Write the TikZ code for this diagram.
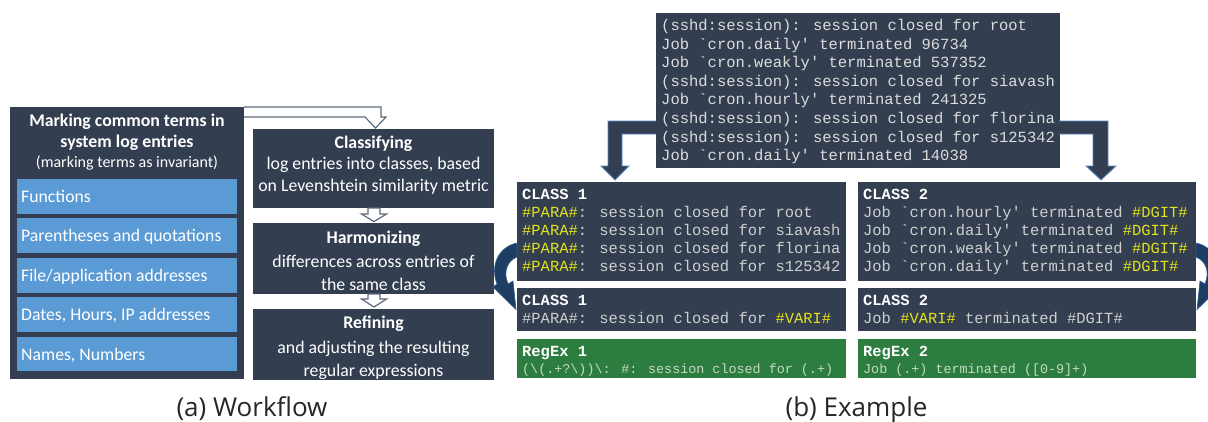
\documentclass[tikz,border=0pt]{standalone}
\usepackage{fontspec}
\setmainfont{Carlito}
\newfontfamily\logfont{Liberation Mono}
\newfontfamily\capfont{Open Sans}
\usetikzlibrary{calc}

\definecolor{panel}{HTML}{333F50}
\definecolor{itemblue}{HTML}{5B9BD5}
\definecolor{regexgreen}{HTML}{2E7D40}
\definecolor{hilite}{HTML}{E2E21C}
\definecolor{logtext}{HTML}{DCDCDC}
\definecolor{classtext}{HTML}{CFCFCF}
\definecolor{regextext}{HTML}{C2DAC4}
\definecolor{outline}{HTML}{5E6B7D}
\definecolor{bentedge}{HTML}{5A8AC6}
\definecolor{curvefill}{HTML}{1E3D62}
\definecolor{curveedge}{HTML}{2F5F94}

\tikzset{
  panelbox/.style={anchor=north west, inner sep=0pt, outer sep=0pt, fill=#1},
  itemtext/.style={anchor=base west, inner sep=0pt, text=white,
    font=\fontsize{17.7}{21}\selectfont},
  headtext/.style={anchor=base, inner sep=0pt, text=white,
    font=\fontsize{17.8}{21}\selectfont\bfseries},
  bodytext/.style={anchor=base, inner sep=0pt, text=white,
    font=\fontsize{17.8}{21}\selectfont},
  logline/.style={anchor=base west, inner sep=0pt, text=logtext,
    font=\logfont\fontsize{15.5}{18}\selectfont},
  classline/.style={anchor=base west, inner sep=0pt, text=classtext,
    font=\logfont\fontsize{15.45}{18}\selectfont},
  classhead/.style={anchor=base west, inner sep=0pt, text=white,
    font=\logfont\fontsize{15.45}{18}\selectfont\bfseries},
  regexline/.style={anchor=base west, inner sep=0pt, text=regextext,
    font=\logfont\fontsize{13.4}{16}\selectfont},
  hollowarrow/.style={fill=white, draw=outline, line width=1.2pt, line join=miter},
  bentarrow/.style={fill=panel, draw=bentedge, line width=0.9pt, line join=miter},
  curvedarrow/.style={fill=curvefill, draw=curveedge, line width=0.6pt},
  caption/.style={anchor=base, inner sep=0pt, text=black!85,
    font=\capfont\fontsize{26}{30}\selectfont}
}

\begin{document}
\begin{tikzpicture}[x=1pt, y=-1pt]
\useasboundingbox (0,0) rectangle (1208,421);
\clip (0,0) rectangle (1208,421);
\fill[white] (0,0) rectangle (1208,421);

% ---------------- workflow: boxes and hollow connector arrows
\node[panelbox=panel, minimum width=234, minimum height=272] (mark) at (10,107) {};
\node[panelbox=panel, minimum width=241, minimum height=79] (cls) at (253,129) {};
\node[panelbox=panel, minimum width=241, minimum height=71] (harm) at (253,223) {};
\node[panelbox=panel, minimum width=241, minimum height=71] (refi) at (253,309) {};

\draw[hollowarrow] (mark.north east) -- ($(mark.north east)+(137,0)$)
  -- ($(mark.north east)+(137,10)$) -- ($(mark.north east)+(142,10)$)
  -- ($(cls.north)+(2,-1)$) -- ($(mark.north east)+(121,10)$)
  -- ($(mark.north east)+(0,10)$);
\draw[hollowarrow] ($(cls.south)+(-5.5,0)$) -- ($(cls.south)+(6.5,0)$)
  -- ($(cls.south)+(6.5,6)$) -- ($(cls.south)+(13,6)$)
  -- ($(harm.north)+(0.5,-1.5)$) -- ($(cls.south)+(-12,6)$)
  -- ($(cls.south)+(-5.5,6)$) -- cycle;
\draw[hollowarrow] ($(harm.south)+(-5.5,0)$) -- ($(harm.south)+(6.5,0)$)
  -- ($(harm.south)+(6.5,5)$) -- ($(harm.south)+(13,5)$)
  -- ($(refi.north)+(0.5,-2)$) -- ($(harm.south)+(-12,5)$)
  -- ($(harm.south)+(-5.5,5)$) -- cycle;

% ---------------- workflow: marking box and its items
\node[headtext] (t1) at (127,126.5) {Marking common terms in};
\node[headtext] (t2) at (127,147.5) {system log entries};
\node[anchor=base, inner sep=0pt, text=white, font=\fontsize{16}{19}\selectfont]
  (t3) at (127,167) {(marking terms as invariant)};

\node[panelbox=itemblue, minimum width=220, minimum height=35] (i1) at (17,179) {};
\node[panelbox=itemblue, minimum width=220, minimum height=35] (i2) at (17,218) {};
\node[panelbox=itemblue, minimum width=220, minimum height=35] (i3) at (17,258) {};
\node[panelbox=itemblue, minimum width=220, minimum height=35] (i4) at (17,297) {};
\node[panelbox=itemblue, minimum width=220, minimum height=34] (i5) at (17,337) {};
\node[itemtext] (i1t) at (21,202.5) {Functions};
\node[itemtext] (i2t) at (21,241.5) {Parentheses and quotations};
\node[itemtext] (i3t) at (21,281) {File/application addresses};
\node[itemtext] (i4t) at (21,320.5) {Dates, Hours, IP addresses};
\node[itemtext] (i5t) at (21,360) {Names, Numbers};

% ---------------- workflow: steps
\node[headtext] (c1h) at (373.5,148.7) {Classifying};
\node[bodytext] (c1a) at (373.5,169.7) {log entries into classes, based};
\node[bodytext] (c1b) at (373.5,191.7) {on Levenshtein similarity metric};
\node[headtext] (h1h) at (373.5,243.3) {Harmonizing};
\node[bodytext] (h1a) at (373.5,267) {differences across entries of};
\node[bodytext] (h1b) at (373.5,290) {the same class};
\node[headtext] (r1h) at (373.5,328.7) {Refining};
\node[bodytext] (r1a) at (373.5,353.7) {and adjusting the resulting};
\node[bodytext] (r1b) at (373.5,376) {regular expressions};

% ---------------- example: raw log entries
\node[panelbox=panel, minimum width=404, minimum height=155] (log) at (656,13) {};
\node[logline] (l1) at (661,30.5) {(sshd:session): session closed for root};
\node[logline] (l2) at (661,49.1) {Job `cron.daily' terminated 96734};
\node[logline] (l3) at (661,67.7) {Job `cron.weakly' terminated 537352};
\node[logline] (l4) at (661,86.3) {(sshd:session): session closed for siavash};
\node[logline] (l5) at (661,104.9) {Job `cron.hourly' terminated 241325};
\node[logline] (l6) at (661,123.5) {(sshd:session): session closed for florina};
\node[logline] (l7) at (661,142.1) {(sshd:session): session closed for s125342};
\node[logline] (l8) at (661,160.7) {Job `cron.daily' terminated 14038};

% ---------------- example: class boxes
\node[panelbox=panel, minimum width=329, minimum height=99] (k1) at (517,182) {};
\node[panelbox=panel, minimum width=338, minimum height=99] (k2) at (858,182) {};
\node[panelbox=panel, minimum width=329, minimum height=43] (m1) at (517,288) {};
\node[panelbox=panel, minimum width=338, minimum height=43] (m2) at (858,288) {};
\node[panelbox=regexgreen, minimum width=329, minimum height=39] (g1) at (517,339) {};
\node[panelbox=regexgreen, minimum width=338, minimum height=39] (g2) at (858,339) {};

% bent arrows from the log to both classes
\coordinate (lbend) at ($(log.north west)+(0,108)$);
\draw[bentarrow] (lbend) -- ($(lbend)+(-48,0)$) -- ($(lbend)+(-48,45)$)
  -- ($(lbend)+(-55,45)$) -- ($(k1.north west)+(98,-2)$)
  -- ($(lbend)+(-27,45)$) -- ($(lbend)+(-34,45)$) -- ($(lbend)+(-34,13)$)
  -- ($(lbend)+(0,13)$);
\coordinate (rbend) at ($(log.north east)+(-1,108)$);
\draw[bentarrow] (rbend) -- ($(rbend)+(49,0)$) -- ($(rbend)+(49,45)$)
  -- ($(rbend)+(57,45)$) -- ($(k2.north east)+(-95,-2)$)
  -- ($(rbend)+(27,45)$) -- ($(rbend)+(34,45)$) -- ($(rbend)+(34,13)$)
  -- ($(rbend)+(0,13)$);

% curved arrows from each class to its harmonized form
\filldraw[curvedarrow] (k1.west |- 0,243) .. controls (498,247) and (490,266) .. (497,284)
  -- (493,287) -- ($(m1.west)+(-1,0)$) -- (513,281) -- (508,284)
  .. controls (503,272) and (507,261) .. (k1.west |- 0,257) -- cycle;
\filldraw[curvedarrow] (k2.east |- 0,243) .. controls (1215,247) and (1223,266) .. (1216,284)
  -- (1220,287) -- ($(m2.east)+(1,0)$) -- (1200,281) -- (1205,284)
  .. controls (1210,272) and (1206,261) .. (k2.east |- 0,257) -- cycle;

% class contents
\node[classhead] (k1h) at (522,199) {CLASS 1};
\node[classline] (k1a) at (522,217.5) {\textcolor{hilite}{\#PARA\#}: session closed for root};
\node[classline] (k1b) at (522,235.5) {\textcolor{hilite}{\#PARA\#}: session closed for siavash};
\node[classline] (k1c) at (522,253.5) {\textcolor{hilite}{\#PARA\#}: session closed for florina};
\node[classline] (k1d) at (522,271.5) {\textcolor{hilite}{\#PARA\#}: session closed for s125342};
\node[classhead] (k2h) at (863,199) {CLASS 2};
\node[classline] (k2a) at (863,217.5) {Job `cron.hourly' terminated \textcolor{hilite}{\#DGIT\#}};
\node[classline] (k2b) at (863,235.5) {Job `cron.daily' terminated \textcolor{hilite}{\#DGIT\#}};
\node[classline] (k2c) at (863,253.5) {Job `cron.weakly' terminated \textcolor{hilite}{\#DGIT\#}};
\node[classline] (k2d) at (863,271.5) {Job `cron.daily' terminated \textcolor{hilite}{\#DGIT\#}};

\node[classhead] (m1h) at (522,305.5) {CLASS 1};
\node[classline] (m1a) at (522,323.5) {\#PARA\#: session closed for \textcolor{hilite}{\#VARI\#}};
\node[classhead] (m2h) at (863,305.5) {CLASS 2};
\node[classline] (m2a) at (863,323.5) {Job \textcolor{hilite}{\#VARI\#} terminated \#DGIT\#};

\node[classhead] (g1h) at (522,356) {RegEx 1};
\node[regexline] (g1a) at (522,373.5)
  {(\textbackslash(.+?\textbackslash))\textbackslash: \#: session closed for (.+)};
\node[classhead] (g2h) at (863,356) {RegEx 2};
\node[regexline] (g2a) at (863,373.5) {Job (.+) terminated ([0-9]+)};

% ---------------- captions
\node[caption] (capa) at (252,416) {(a) Workflow};
\node[caption] (capb) at (856.5,416) {(b) Example};
\end{tikzpicture}
\end{document}
